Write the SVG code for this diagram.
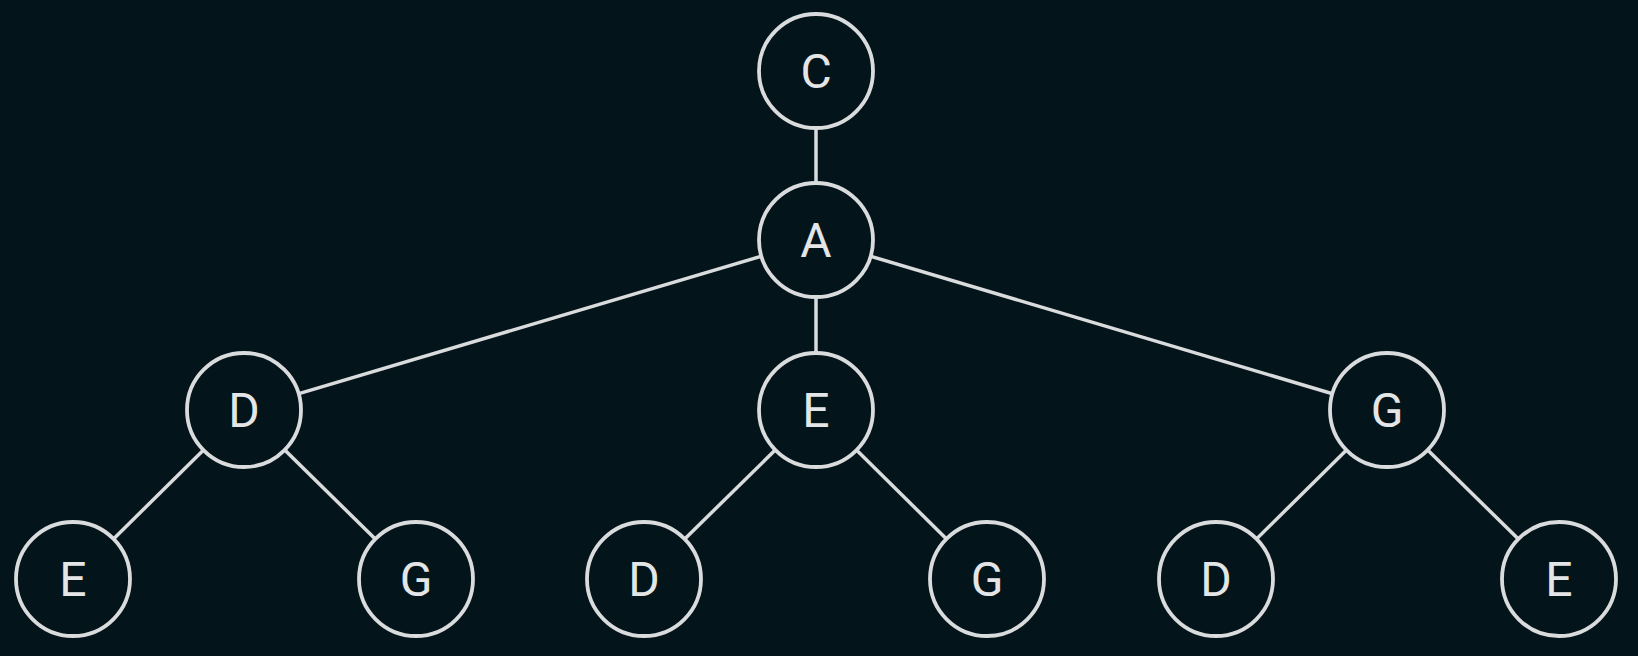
<svg xmlns="http://www.w3.org/2000/svg" width="1638" height="656" viewBox="0 0 1638 656">
<style>
.bg{fill:#03141a}
.edge{stroke:#d9dbdc;stroke-width:3.5;fill:none}
.node circle{fill:#03141a;stroke:#d9dbdc;stroke-width:3.8}
.node text{font-family:Roboto,"Liberation Sans",sans-serif;font-size:48px;font-weight:400;fill:#e3e5e6;text-anchor:middle}
</style>
<rect class="bg" x="0" y="0" width="1638" height="656"/>
<g id="connectors">
<line class="edge" x1="816" y1="71" x2="816" y2="240"/>
<line class="edge" x1="816" y1="240" x2="244" y2="410"/>
<line class="edge" x1="816" y1="240" x2="816" y2="410"/>
<line class="edge" x1="816" y1="240" x2="1387" y2="410"/>
<line class="edge" x1="244" y1="410" x2="73" y2="579"/>
<line class="edge" x1="244" y1="410" x2="416" y2="579"/>
<line class="edge" x1="816" y1="410" x2="644" y2="579"/>
<line class="edge" x1="816" y1="410" x2="987" y2="579"/>
<line class="edge" x1="1387" y1="410" x2="1216" y2="579"/>
<line class="edge" x1="1387" y1="410" x2="1559" y2="579"/>
</g>
<g id="node-C" class="node"><circle cx="816" cy="71" r="57"/><text x="816" y="88">C</text></g>
<g id="node-A" class="node"><circle cx="816" cy="240" r="57"/><text x="816" y="257">A</text></g>
<g id="node-D1" class="node"><circle cx="244" cy="410" r="57"/><text x="244" y="427">D</text></g>
<g id="node-E1" class="node"><circle cx="816" cy="410" r="57"/><text x="816" y="427">E</text></g>
<g id="node-G1" class="node"><circle cx="1387" cy="410" r="57"/><text x="1387" y="427">G</text></g>
<g id="node-E2" class="node"><circle cx="73" cy="579" r="57"/><text x="73" y="596">E</text></g>
<g id="node-G2" class="node"><circle cx="416" cy="579" r="57"/><text x="416" y="596">G</text></g>
<g id="node-D2" class="node"><circle cx="644" cy="579" r="57"/><text x="644" y="596">D</text></g>
<g id="node-G3" class="node"><circle cx="987" cy="579" r="57"/><text x="987" y="596">G</text></g>
<g id="node-D3" class="node"><circle cx="1216" cy="579" r="57"/><text x="1216" y="596">D</text></g>
<g id="node-E3" class="node"><circle cx="1559" cy="579" r="57"/><text x="1559" y="596">E</text></g>
</svg>
